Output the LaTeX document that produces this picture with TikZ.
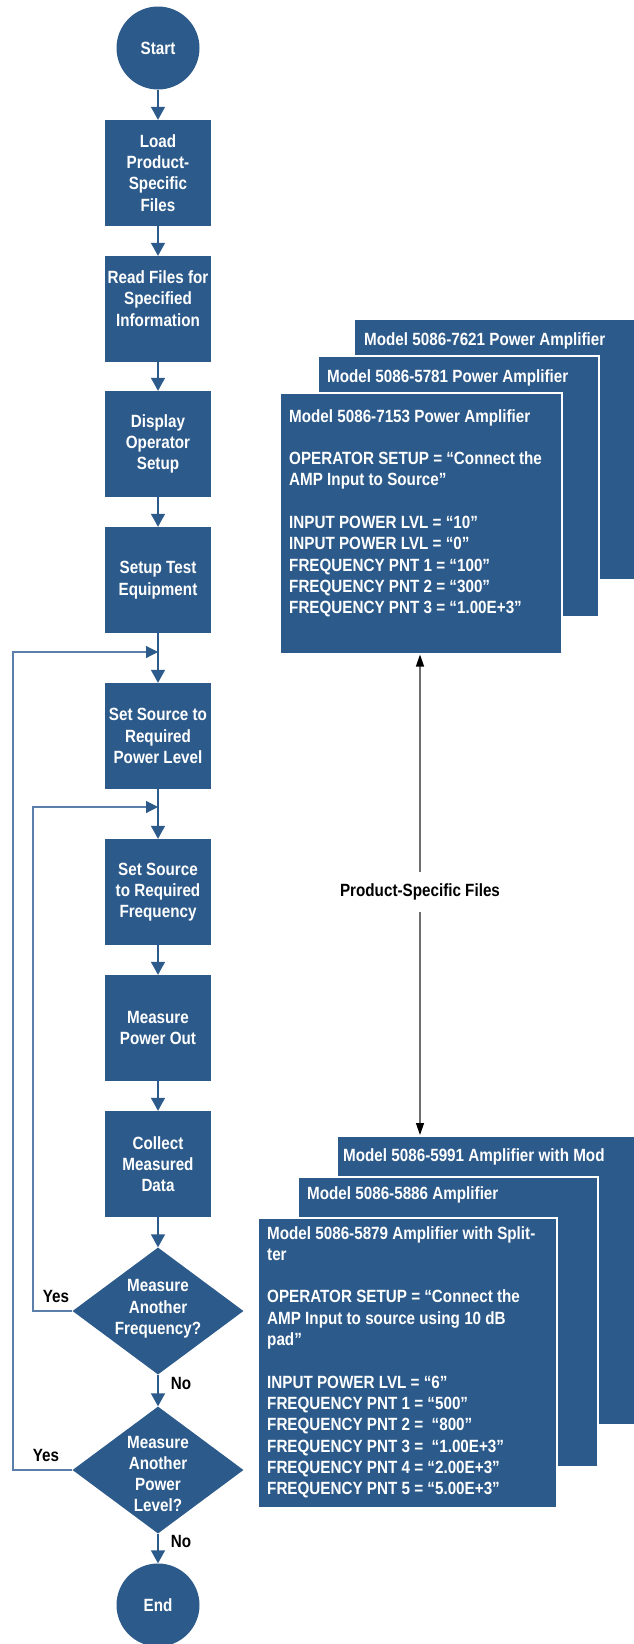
\documentclass[tikz,border=0pt]{standalone}
\usepackage{fontspec}
\setmainfont{Liberation Sans}[FakeStretch=0.86]
\usetikzlibrary{shapes.geometric,arrows.meta}
\definecolor{hpblue}{HTML}{2C5A8A}
\definecolor{fbblue}{HTML}{5A7FAA}
\definecolor{linkgray}{HTML}{6E6E6E}
\begin{document}
\begin{tikzpicture}[x=1pt,y=-1pt,
  txt/.style={font=\fontsize{17.7}{21.3}\selectfont\bfseries},
  proc/.style={rectangle, fill=hpblue, minimum width=106pt, minimum height=106pt, inner sep=0pt, text=white, align=center, txt},
  term/.style={circle, fill=hpblue, minimum size=83pt, inner sep=0pt, text=white, txt},
  dec/.style={diamond, fill=hpblue, minimum width=171pt, minimum height=127pt, inner sep=0pt},
  dectext/.style={text=white, align=center, inner sep=0pt, txt},
  flow/.style={draw=hpblue, line width=1.5pt, -{Triangle[width=14pt,length=13pt]}},
  fb/.style={draw=fbblue, line width=1.2pt, -{Triangle[width=12pt,length=12pt,color=hpblue]}},
  filebox/.style={rectangle, fill=hpblue, draw=white, line width=1.5pt, inner sep=0pt, anchor=north west},
  filetxt/.style={text=white, align=left, inner sep=0pt, anchor=north west, txt},
  headtxt/.style={text=white, inner sep=0pt, anchor=base west, txt},
  lbl/.style={text=black, inner sep=0pt, txt},
  link/.style={draw=linkgray, line width=1.3pt},
  linktip/.style={-{Triangle[width=8pt,length=12pt,color=black]}},
]
\useasboundingbox (0,0) rectangle (634,1644);
\fill[white] (0,0) rectangle (634,1644);
\clip (0,0) rectangle (634,1644);

% flow chart
\node[term] (start) at (158,48) {Start};
\node[proc] (load) at (158,173) {Load\\Product-\\Specific\\Files};
\node[proc] (read) at (158,309) {Read Files for\\Specified\\Information\\\mbox{}};
\node[proc] (disp) at (158,444) {Display\\Operator\\Setup};
\node[proc] (setup) at (158,580) {Setup Test\\Equipment};
\node[proc] (power) at (158,736) {Set Source to\\Required\\Power Level};
\node[proc] (freq) at (158,892) {Set Source\\to Required\\Frequency};
\node[proc] (meas) at (158,1028) {Measure\\Power Out};
\node[proc] (coll) at (158,1164) {Collect\\Measured\\Data};
\node[dec] (d1) at (158,1311) {};
\node[dectext] (d1t) at (158,1309) {Measure\\Another\\Frequency?};
\node[dec] (d2) at (158,1470) {};
\node[dectext] (d2t) at (158,1474) {Measure\\Another\\Power\\Level?};
\node[term] (end) at (158,1605) {End};

\coordinate (j1) at (158,652);
\coordinate (j2) at (158,807);

\draw[flow] (start) -- (load);
\draw[flow] (load) -- (read);
\draw[flow] (read) -- (disp);
\draw[flow] (disp) -- (setup);
\draw[flow] (setup) -- (power);
\draw[flow] (power) -- (freq);
\draw[flow] (freq) -- (meas);
\draw[flow] (meas) -- (coll);
\draw[flow] (coll) -- (d1);
\draw[flow] (d1) -- (d2);
\draw[flow] (d2) -- (end);

\draw[fb] (d1.west) -| (33,807) -- (j2);
\draw[fb] (d2.west) -| (13,652) -- (j1);

\node[lbl] (yes1) at (56,1296) {Yes};
\node[lbl] (yes2) at (46,1455) {Yes};
\node[lbl] (no1) at (181,1383) {No};
\node[lbl] (no2) at (181,1541) {No};

% top file stack
\node[filebox, minimum width=300pt, minimum height=261pt] (tc) at (353,318) {};
\node[headtxt] (tct) at (364,345) {Model 5086-7621 Power Amplifier};
\node[filebox, minimum width=281pt, minimum height=261pt] (tb) at (317,355) {};
\node[headtxt] (tbt) at (327,382) {Model 5086-5781 Power Amplifier};
\node[filebox, minimum width=282pt, minimum height=261pt] (ta) at (279,392) {};
\node[filetxt] (tat) at (289,409) {Model 5086-7153 Power Amplifier\\[21.3pt]
OPERATOR SETUP = “Connect the\\
AMP Input to Source”\\[21.3pt]
INPUT POWER LVL = “10”\\
INPUT POWER LVL = “0”\\
FREQUENCY PNT 1 = “100”\\
FREQUENCY PNT 2 = “300”\\
FREQUENCY PNT 3 = “1.00E+3”};

% bottom file stack
\node[filebox, minimum width=300pt, minimum height=289pt] (bc) at (336,1135) {};
\node[headtxt] (bct) at (343,1161) {Model 5086-5991 Amplifier with Mod};
\node[filebox, minimum width=300pt, minimum height=290pt] (bb) at (297,1176) {};
\node[headtxt] (bbt) at (307,1199) {Model 5086-5886 Amplifier};
\node[filebox, minimum width=299pt, minimum height=290pt] (ba) at (257,1217) {};
\node[filetxt] (bat) at (267,1226) {Model 5086-5879 Amplifier with Split-\\
ter\\[21.3pt]
OPERATOR SETUP = “Connect the\\
AMP Input to source using 10 dB\\
pad”\\[21.3pt]
INPUT POWER LVL = “6”\\
FREQUENCY PNT 1 = “500”\\
FREQUENCY PNT 2 = \ “800”\\
FREQUENCY PNT 3 = \ “1.00E+3”\\
FREQUENCY PNT 4 = “2.00E+3”\\
FREQUENCY PNT 5 = “5.00E+3”};

% product-specific files link
\node[lbl] (psf) at (420,892) {Product-Specific Files};
\draw[link, linktip, shorten <=12pt] (psf.north) -- (psf.north |- ta.south);
\draw[link, linktip, shorten <=12pt] (psf.south) -- (psf.south |- bc.north);
\end{tikzpicture}
\end{document}
